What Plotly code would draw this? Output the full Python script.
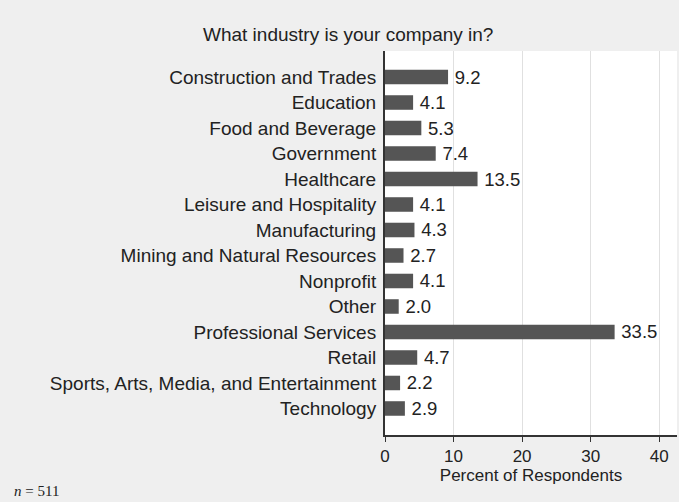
import plotly.graph_objects as go

industries = [
    "Construction and Trades", "Education", "Food and Beverage", "Government",
    "Healthcare", "Leisure and Hospitality", "Manufacturing",
    "Mining and Natural Resources", "Nonprofit", "Other",
    "Professional Services", "Retail",
    "Sports, Arts, Media, and Entertainment", "Technology",
]
percents = [9.2, 4.1, 5.3, 7.4, 13.5, 4.1, 4.3, 2.7, 4.1, 2.0, 33.5, 4.7, 2.2, 2.9]
x_ticks = [0, 10, 20, 30, 40]

font_family = "Liberation Sans, Arial, Helvetica, sans-serif"
plot_w = 679 - 385 - 2

fig = go.Figure()

fig.add_trace(go.Bar(
    x=percents, y=industries, orientation="h",
    marker=dict(color="#555555", line=dict(width=0)),
    width=0.57,
    # thin space gives the small gap between bar end and label
    text=[f"\u2009{v:.1f}" for v in percents], textposition="outside",
    constraintext="none",
    textfont=dict(size=18.5, color="#222222", family=font_family),
    cliponaxis=False,
))

fig.update_layout(
    width=679, height=502,
    margin=dict(l=385, r=2, t=51, b=67),
    paper_bgcolor="#efefef", plot_bgcolor="white",
    font=dict(family=font_family, size=19, color="#222222"),
    showlegend=False,
    xaxis=dict(
        range=[0, 42.6], tickvals=x_ticks, showgrid=True, gridcolor="#e0e0e0",
        gridwidth=1, zeroline=False, showline=True, linecolor="#333333",
        linewidth=2, ticks="outside", ticklen=5, tickcolor="#333333",
        title=dict(text="Percent of Respondents", standoff=0,
                   font=dict(size=17)),
        tickfont=dict(size=17),
    ),
    yaxis=dict(
        categoryorder="array", categoryarray=industries,
        range=[14.04, -1.02], showgrid=False, zeroline=False,
        showline=True, linecolor="#333333", linewidth=2,
        ticks="", ticklabelstandoff=3, tickfont=dict(size=19),
    ),
    annotations=[
        dict(text="What industry is your company in?", xref="paper", yref="paper",
             x=(348 - 385) / plot_w, y=1.0, yshift=17, xanchor="center",
             yanchor="middle", showarrow=False, font=dict(size=19)),
        dict(text="<i>n</i> = 511", xref="paper", yref="paper",
             x=-373 / plot_w, y=0, yshift=-56, xanchor="left", yanchor="middle",
             showarrow=False,
             font=dict(size=15, family="Liberation Serif, Times New Roman, serif")),
    ],
)

fig.write_html("out.html", config={"displayModeBar": False},
               post_script="document.body.style.margin='0';")
